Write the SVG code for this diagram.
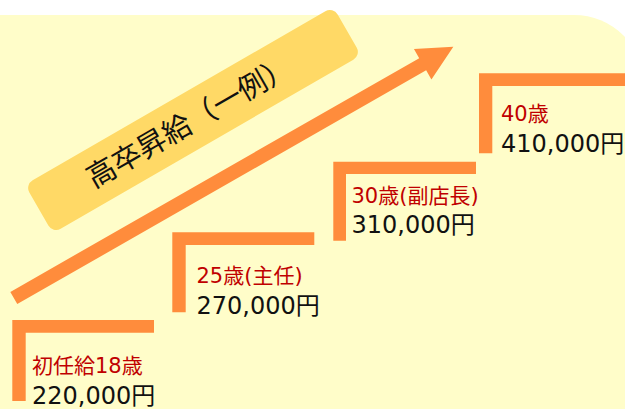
<svg xmlns="http://www.w3.org/2000/svg" width="625" height="409" viewBox="0 0 625 409">
  <style>
    .bar { fill: #FF8C3C; }
    .age { font-family: "DejaVu Sans", "Noto Sans CJK JP", sans-serif; font-size: 21px; fill: #C00000; }
    .pay { font-family: "DejaVu Sans", "Noto Sans CJK JP", sans-serif; font-size: 24px; fill: #111111; }
    .title { font-family: "Noto Sans CJK JP", sans-serif; font-size: 29px; fill: #111111; }
  </style>
  <rect width="625" height="409" fill="#FFFFFF"/>
  <path d="M0,15 H574 A70,70 0 0 1 644,85 V409 H0 Z" fill="#FFFDC9"/>

  <g id="title-label" transform="translate(193,120) rotate(-30)">
    <rect x="-178" y="-28" width="356" height="56" rx="9" fill="#FFD966"/>
    <text class="title" x="-4" y="10" text-anchor="middle">高卒昇給（一例）</text>
  </g>

  <g id="connectors">
    <polygon class="bar" transform="translate(13.8,298) rotate(-29.76)" points="0,-7 471,-7 471,-17.6 506.3,0 471,17.6 471,7 0,7"/>
  </g>

  <g id="step-18">
    <path class="bar" d="M12.3,320 H154 V332.7 H25.7 V401 H12.3 Z"/>
    <text class="age" x="32" y="372.7">初任給18歳</text>
    <text class="pay" x="32" y="404">220,000円</text>
  </g>

  <g id="step-25">
    <path class="bar" d="M172.3,232.3 H314.3 V245 H185.7 V312.3 H172.3 Z"/>
    <text class="age" x="196.5" y="282.7">25歳(主任)</text>
    <text class="pay" x="196.5" y="314">270,000円</text>
  </g>

  <g id="step-30">
    <path class="bar" d="M333.3,161.7 H476 V174 H346 V240.7 H333.3 Z"/>
    <text class="age" x="351.5" y="203.3">30歳(副店長)</text>
    <text class="pay" x="351.5" y="233.3">310,000円</text>
  </g>

  <g id="step-40">
    <path class="bar" d="M479,73.3 H625 V86 H492.3 V153.3 H479 Z"/>
    <text class="age" x="501" y="121">40歳</text>
    <text class="pay" x="501" y="152.3">410,000円</text>
  </g>
</svg>
